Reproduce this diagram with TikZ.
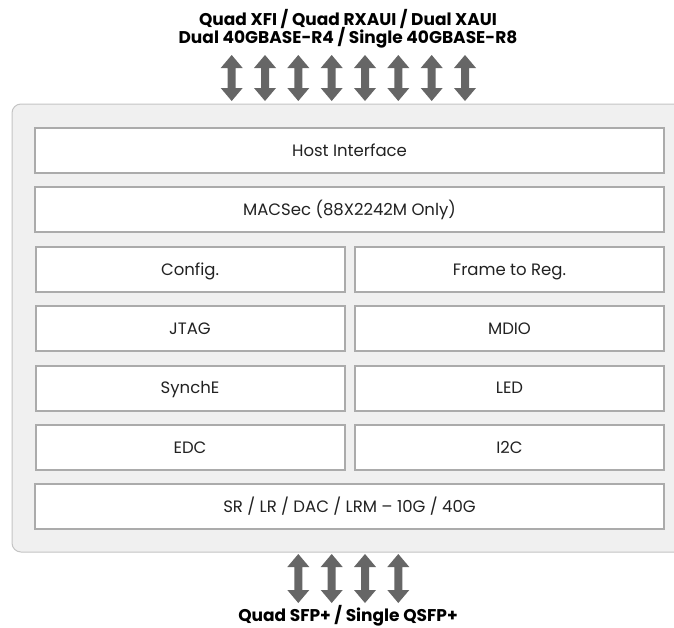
\documentclass[tikz,border=0pt]{standalone}
\usepackage{fontspec}
\setmainfont{Poppins}
\definecolor{contfill}{HTML}{F0F0F0}
\definecolor{contline}{HTML}{C4C4C4}
\definecolor{boxline}{HTML}{ABABAB}
\definecolor{arrowgray}{HTML}{666666}
\definecolor{txt}{HTML}{222222}
\newcommand{\blockarrow}[3]{%
  \fill[arrowgray] (#1,#2) -- ++(11,13) -- ++(-7,0) -- (#1+4,#3-13) -- ++(7,0) -- (#1,#3)
    -- ++(-11,-13) -- ++(7,0) -- (#1-4,#2+13) -- ++(-7,0) -- cycle;}
\begin{document}
\begin{tikzpicture}[x=1pt,y=-1pt,
  box/.style={draw=boxline, line width=2pt, fill=white, text=txt,
    minimum height=45pt, inner sep=0pt, text height=11.5pt, text depth=0pt,
    font=\fontsize{16.5}{20}\selectfont},
  wide/.style={box, minimum width=629pt},
  half/.style={box, minimum width=309pt},
  lbl/.style={font=\bfseries\fontsize{17}{20}\selectfont, text=black, inner sep=0pt, anchor=base}]
\useasboundingbox (0,0) rectangle (674,627);
\begin{scope}
\clip (0,0) rectangle (674,627);
\draw[contline, fill=contfill, line width=1pt, rounded corners=9pt] (12,104) rectangle (700,552);
\end{scope}
\node[wide] (host) at (349.5,150.5) {Host Interface};
\node[wide] (macsec) at (349.5,209.9) {MACSec (88X2242M Only)};
\node[half] (config) at (190,269.3) {Config.};
\node[half] (frame) at (509.5,269.3) {Frame to Reg.};
\node[half] (jtag) at (190,328.7) {JTAG};
\node[half] (mdio) at (509.5,328.7) {MDIO};
\node[half] (synche) at (190,388.1) {SynchE};
\node[half] (led) at (509.5,388.1) {LED};
\node[half] (edc) at (190,447.5) {EDC};
\node[half] (i2c) at (509.5,447.5) {I2C};
\node[wide] (sr) at (349.5,506.9) {SR / LR / DAC / LRM – 10G / 40G};
\node[lbl] (toplbl1) at (348,25) {Quad XFI / Quad RXAUI / Dual XAUI};
\node[lbl] (toplbl2) at (348,43.5) {Dual 40GBASE-R4 / Single 40GBASE-R8};
\node[lbl] (botlbl) at (348,621) {Quad SFP+ / Single QSFP+};
\foreach \x in {231.7,265,298.3,331.7,365,398.3,431.7,465}{\blockarrow{\x}{55}{101}}
\foreach \x in {298.3,331.7,365,398.3}{\blockarrow{\x}{554}{603}}
\end{tikzpicture}
\end{document}
